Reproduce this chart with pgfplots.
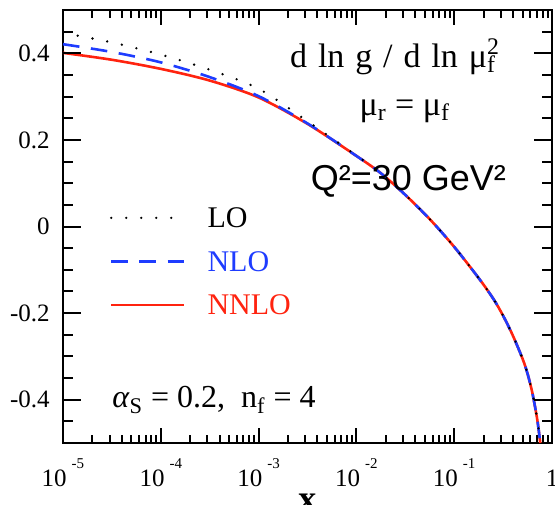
\documentclass[border=0pt]{standalone}
\usepackage{fontspec}
\setmainfont{Liberation Serif}
\newfontfamily\sansf{Liberation Sans}
\usepackage{pgfplots}
\usepackage{pgfplotstable}
\pgfplotsset{compat=1.18}

\definecolor{nnlored}{RGB}{255,35,15}
\definecolor{nloblue}{RGB}{30,60,255}

% decade labels: 10 with a small raised exponent
\newcommand{\tenexp}[1]{10\hspace{2.5pt}\raisebox{9pt}{\fontsize{7.5}{7.5}\selectfont #1}}
\newcommand{\wsp}{\hspace{0.32em}}

% d ln g / d ln mu_f^2 at mu_r = mu_f, Q^2 = 30 GeV^2
\pgfplotstableread{
x        y
1e-5     0.401
3.162e-5 0.385
1e-4     0.364
3.162e-4 0.337
1e-3     0.298
3.162e-3 0.237
1e-2     0.163
1.778e-2 0.123
3.162e-2 0.073
5.623e-2 0.017
1e-1    -0.047
1.778e-1 -0.119
2.512e-1 -0.167
3.162e-1 -0.206
3.981e-1 -0.252
5.012e-1 -0.306
5.623e-1 -0.340
6.310e-1 -0.385
7.079e-1 -0.447
7.586e-1 -0.500
}\nnlo

\pgfplotstableread{
x        y
1e-5     0.421
3.162e-5 0.403
1e-4     0.379
3.162e-4 0.345
1e-3     0.301
3.162e-3 0.238
1e-2     0.163
1.778e-2 0.123
3.162e-2 0.073
5.623e-2 0.017
1e-1    -0.047
1.778e-1 -0.119
2.512e-1 -0.167
3.162e-1 -0.206
3.981e-1 -0.252
5.012e-1 -0.306
5.623e-1 -0.340
6.310e-1 -0.385
7.079e-1 -0.447
7.586e-1 -0.500
}\nlo

\pgfplotstableread{
x        y
1e-5     0.447
3.162e-5 0.425
1e-4     0.397
3.162e-4 0.362
1e-3     0.318
3.162e-3 0.243
1e-2     0.164
1.778e-2 0.123
3.162e-2 0.073
5.623e-2 0.017
1e-1    -0.047
1.778e-1 -0.119
2.512e-1 -0.167
3.162e-1 -0.206
3.981e-1 -0.252
5.012e-1 -0.306
5.623e-1 -0.340
6.310e-1 -0.385
7.079e-1 -0.447
7.586e-1 -0.500
}\lo

\begin{document}
\begin{tikzpicture}
% page frame: the axis box sits with its lower left corner at the origin
\useasboundingbox (-31.5pt,-30.5pt) rectangle (246pt,221.5pt);
\begin{axis}[
  at={(0pt,0pt)}, anchor=south west,
  scale only axis, width=244.5pt, height=216.5pt,
  xmode=log, xmin=1e-5, xmax=1, ymin=-0.5, ymax=0.5,
  axis line style={line width=1pt},
  major tick length=0pt, minor tick length=0pt,
  xtick={1e-5,1e-4,1e-3,1e-2,1e-1,1},
  xticklabels={\tenexp{-5},\tenexp{-4},\tenexp{-3},\tenexp{-2},\tenexp{-1},1},
  ytick={-0.4,-0.2,0,0.2,0.4},
  yticklabels={-0.4,-0.2,0,0.2,0.4},
  xticklabel style={anchor=base, inner sep=0pt, yshift=-21.5pt, font=\fontsize{12.5}{14}\selectfont},
  yticklabel style={anchor=east, inner sep=0pt, xshift=-6.5pt, font=\fontsize{12.5}{14}\selectfont},
  xlabel={\textbf{x}},
  xlabel style={at={(axis description cs:0.5,0)}, anchor=north, yshift=-25.5pt, inner sep=0pt, font=\fontsize{18}{20}\selectfont},
  legend style={at={(0.096,0.543)}, anchor=north west, draw=none, fill=none,
    inner sep=0pt, outer sep=0pt, row sep=11.75pt, column sep=11pt,
    font=\fontsize{15}{17}\selectfont,
    nodes={inner sep=0pt, text height=10pt, text depth=0pt}},
  legend cell align=left,
  legend image code/.code={\draw[#1] (0pt,0pt) -- (36.5pt,0pt);},
  reverse legend,
]
\addplot[nnlored, line width=1.3pt, smooth, tension=0.5] table {\nnlo};
\addlegendentry{\textcolor{nnlored}{NNLO}}
\addplot[nloblue, line width=1.3pt, dash pattern=on 8.3pt off 5.8pt, smooth, tension=0.5] table {\nlo};
\addlegendentry{\textcolor{nloblue}{NLO}}
\addplot[black, line width=1.3pt, line cap=round, dash pattern=on 0pt off 7.5pt, smooth, tension=0.5] table {\lo};
\addlegendentry{LO}

\node[anchor=base, font=\fontsize{17}{19}\selectfont] at (rel axis cs:0.679,0.868)
  {d\wsp ln\wsp g\wsp /\wsp d\wsp ln\wsp μ\rlap{\textsubscript{f}}\textsuperscript{2}};
\node[anchor=base, font=\fontsize{17}{19}\selectfont] at (rel axis cs:0.699,0.757)
  {μ\textsubscript{r} = μ\textsubscript{f}};
\node[anchor=base, font=\sansf\fontsize{18}{20}\selectfont] at (rel axis cs:0.7065,0.584)
  {Q²=30 GeV²};
\node[anchor=base west, inner sep=0pt, font=\fontsize{16}{18}\selectfont] at (rel axis cs:0.100,0.081)
  {\textit{α}\textsubscript{S} = 0.2,\ \ n\textsubscript{f} = 4};
\end{axis}

% inward tick marks around the frame (244.5pt wide, 216.5pt high;
% one decade = 48.9pt, 0.05 in y = 10.825pt)
\begin{scope}[line width=1pt]
  \foreach \d in {1,2,3,4} {
    \draw (\d*48.9pt,0pt) -- ++(0pt,7.5pt);
    \draw (\d*48.9pt,216.5pt) -- ++(0pt,-7.5pt);
  }
  \foreach \d in {0,1,2,3,4} {
    \foreach \m in {2,...,9} {
      \pgfmathsetmacro{\tx}{(\d+log10(\m))*48.9}
      \draw (\tx pt,0pt) -- ++(0pt,4pt);
      \draw (\tx pt,216.5pt) -- ++(0pt,-4pt);
    }
  }
  \foreach \k in {1,...,19} {
    \pgfmathsetmacro{\ty}{\k*10.825}
    \pgfmathtruncatemacro{\major}{mod(\k,4)==2 ? 1 : 0}
    \ifnum\major=1
      \draw (0pt,\ty pt) -- ++(9pt,0pt);
      \draw (244.5pt,\ty pt) -- ++(-9pt,0pt);
    \else
      \draw (0pt,\ty pt) -- ++(5pt,0pt);
      \draw (244.5pt,\ty pt) -- ++(-5pt,0pt);
    \fi
  }
\end{scope}
\end{tikzpicture}
\end{document}
